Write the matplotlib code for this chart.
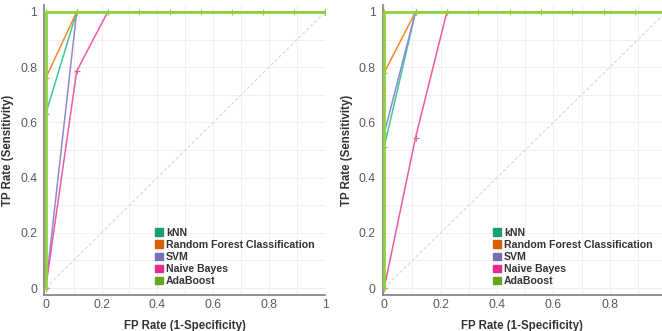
import matplotlib.pyplot as plt

# --- data: ROC curve points ---
models = ["kNN", "Random Forest Classification", "SVM", "Naive Bayes", "AdaBoost"]
colors = ["#1b9e77", "#d95f02", "#7570b3", "#e7298a", "#66a61e"]
line_colors = ["#3fc79a", "#f08a2a", "#8f8ad0", "#ef5aa5", "#8fd43c"]

step = 1 / 9
fpr_grid = [i * step for i in range(10)]

# left panel
left_fpr = {
    "kNN": [0, 0, step, 1],
    "Random Forest Classification": [0, 0, step, 1],
    "SVM": [0, step, 1],
    "Naive Bayes": [0, step, 2 * step, 1],
    "AdaBoost": [0, 0] + fpr_grid[1:],
}
left_tpr = {
    "kNN": [0, 0.63, 1, 1],
    "Random Forest Classification": [0, 0.76, 1, 1],
    "SVM": [0, 1, 1],
    "Naive Bayes": [0, 0.786, 1, 1],
    "AdaBoost": [0, 1] + [1] * 9,
}

# right panel
right_fpr = {
    "kNN": [0, 0, step, 1],
    "Random Forest Classification": [0, 0, step, 1],
    "SVM": [0, 0, step, 1],
    "Naive Bayes": [0, step, 2 * step, 1],
    "AdaBoost": [0, 0] + fpr_grid[1:],
}
right_tpr = {
    "kNN": [0, 0.51, 1, 1],
    "Random Forest Classification": [0, 0.78, 1, 1],
    "SVM": [0, 0.56, 1, 1],
    "Naive Bayes": [0, 0.545, 1, 1],
    "AdaBoost": [0, 1] + [1] * 9,
}

ticks = [0, 0.2, 0.4, 0.6, 0.8, 1]
tick_labels = ["0", "0.2", "0.4", "0.6", "0.8", "1"]

plt.rcParams["font.family"] = ["Liberation Sans", "DejaVu Sans"]

fig = plt.figure(figsize=(6.62, 3.31), dpi=100)
ax_left = fig.add_axes([44 / 662, 1 - 295 / 331, 281 / 662, 290 / 331])
ax_right = fig.add_axes([382.5 / 662, 1 - 295 / 331, 279.5 / 662, 290 / 331])


def draw_panel(ax, fpr, tpr, xmax):
    # faint grid
    for v in [i / 10 for i in range(11)]:
        ax.axvline(v, color="#f0f0f0", lw=0.7, zorder=0)
        ax.axhline(v, color="#f0f0f0", lw=0.7, zorder=0)
    ax.plot([0, 1], [0, 1], color="#d8d8d8", lw=0.8, ls=(0, (3, 2)), zorder=1)

    for name, lc in zip(models, line_colors):
        lw = 2.0 if name == "AdaBoost" else 1.1
        ax.plot(fpr[name], tpr[name], color=lc, lw=lw, marker="+", ms=5,
                mew=0.8, zorder=3 if name == "AdaBoost" else 2)

    ax.set_xlim(-0.006, xmax)
    ax.set_ylim(-0.025, 1.025)
    ax.set_xticks([t for t in ticks if t <= xmax])
    ax.set_xticklabels([l for t, l in zip(ticks, tick_labels) if t <= xmax])
    ax.set_yticks(ticks)
    ax.set_yticklabels(tick_labels)
    ax.tick_params(length=0, labelsize=8.7, labelcolor="#5a5a5a")
    ax.tick_params(axis="x", pad=3)
    ax.tick_params(axis="y", pad=5)
    for side in ["top", "right"]:
        ax.spines[side].set_visible(False)
    for side in ["left", "bottom"]:
        ax.spines[side].set_color("#888888")
        ax.spines[side].set_linewidth(1.3)
    ax.set_xlabel("FP Rate (1-Specificity)", fontsize=8.3, fontweight="bold",
                  color="#333333", labelpad=6)
    ax.set_ylabel("TP Rate (Sensitivity)", fontsize=8.3, fontweight="bold",
                  color="#333333", labelpad=4)

    handles = [plt.Rectangle((0, 0), 1, 1, color=c) for c in colors]
    leg = ax.legend(handles, models, loc="lower left", bbox_to_anchor=(0.37, 0.005),
                    frameon=False, fontsize=7.6, handlelength=0.7, handleheight=0.7,
                    handletextpad=0.3, labelspacing=0.2, borderpad=0.2)
    for t in leg.get_texts():
        t.set_fontweight("bold")
        t.set_color("#333333")


draw_panel(ax_left, left_fpr, left_tpr, 1.0)
draw_panel(ax_right, right_fpr, right_tpr, 0.985)

plt.savefig("out.png", dpi=100)
